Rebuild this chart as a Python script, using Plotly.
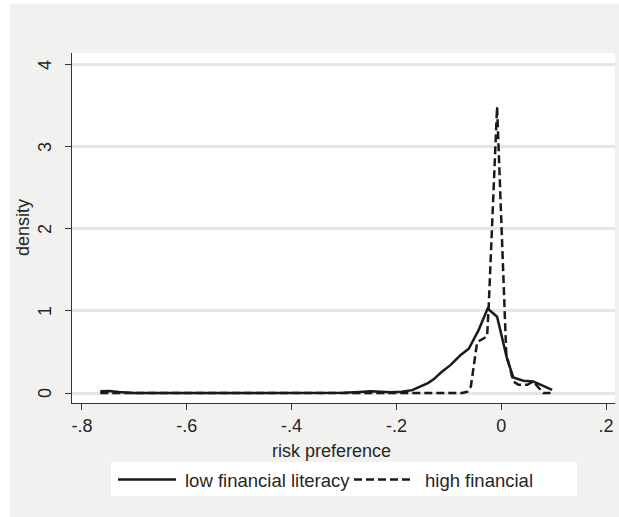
import plotly.graph_objects as go

# ---- data ----
low_x = [-0.765, -0.748, -0.73, -0.70, -0.60, -0.50, -0.40, -0.30, -0.27, -0.25, -0.23, -0.21,
         -0.19, -0.17, -0.155, -0.14, -0.129, -0.115, -0.097, -0.078, -0.062, -0.043, -0.026,
         -0.008, 0.011, 0.023, 0.042, 0.061, 0.079, 0.097]
low_y = [0.02, 0.025, 0.012, 0.0, 0.0, 0.0, 0.0, 0.003, 0.012, 0.02, 0.015, 0.01,
         0.016, 0.035, 0.077, 0.12, 0.167, 0.25, 0.34, 0.46, 0.54, 0.77, 1.03,
         0.93, 0.42, 0.19, 0.15, 0.14, 0.09, 0.037]

high_x = [-0.765, -0.50, -0.20, -0.075, -0.065, -0.058, -0.046, -0.027, -0.024, -0.008,
          0.0095, 0.023, 0.033, 0.05, 0.061, 0.08, 0.094]
high_y = [0.0, 0.0, 0.0, 0.0, 0.015, 0.08, 0.62, 0.69, 1.05, 3.49,
          0.48, 0.14, 0.10, 0.10, 0.14, 0.0, 0.0]

x_tick_vals = [-0.8, -0.6, -0.4, -0.2, 0.0, 0.2]
x_tick_text = ["-.8", "-.6", "-.4", "-.2", "0", ".2"]
y_tick_vals = [0, 1, 2, 3, 4]
y_tick_text = ["0", "1", "2", "3", "4"]

series_names = ["low financial literacy", "high financial"]

# ---- layout geometry (pixels) ----
W, H = 619, 517
L, R, T, B = 72, 615, 53, 403
PW, PH = R - L, B - T

def px(xp):
    return (xp - L) / PW

def py(yp):
    return (B - yp) / PH

FONT = "Liberation Sans, Arial, Helvetica, sans-serif"
TXT = "#262626"
BG = "#f1f2f0"
LINE = "#1a1a1a"
AX = "#333333"

fig = go.Figure()
fig.add_trace(go.Scatter(x=low_x, y=low_y, mode="lines", name=series_names[0],
                         line=dict(color=LINE, width=2.5), showlegend=False))
fig.add_trace(go.Scatter(x=high_x, y=high_y, mode="lines", name=series_names[1],
                         line=dict(color=LINE, width=2.5, dash="8px,4px"), showlegend=False))

shapes = [
    # white strips outside the grey outer panel
    dict(type="rect", xref="paper", yref="paper", x0=px(0), x1=px(10), y0=py(H), y1=py(0),
         fillcolor="white", line_width=0, layer="below"),
    dict(type="rect", xref="paper", yref="paper", x0=px(0), x1=px(W), y0=py(4), y1=py(0),
         fillcolor="white", line_width=0, layer="below"),
    # legend box
    dict(type="rect", xref="paper", yref="paper", x0=px(111), x1=px(577), y0=py(496), y1=py(462),
         fillcolor="white", line_width=0, layer="above"),
    dict(type="line", xref="paper", yref="paper", x0=px(118), x1=px(176), y0=py(479.5), y1=py(479.5),
         line=dict(color=LINE, width=2.5)),
    dict(type="line", xref="paper", yref="paper", x0=px(354), x1=px(413), y0=py(479.5), y1=py(479.5),
         line=dict(color=LINE, width=2.5, dash="8px,4px")),
]

annotations = [
    dict(text=series_names[0], xref="paper", yref="paper", x=px(183), y=py(480),
         xanchor="left", yanchor="middle", showarrow=False, font=dict(size=18.5, color=TXT, family=FONT)),
    dict(text=series_names[1], xref="paper", yref="paper", x=px(423), y=py(480),
         xanchor="left", yanchor="middle", showarrow=False, font=dict(size=18.5, color=TXT, family=FONT)),
    dict(text="risk preference", xref="paper", yref="paper", x=px(331), y=py(451),
         xanchor="center", yanchor="middle", showarrow=False, font=dict(size=18, color=TXT, family=FONT)),
    dict(text="density", xref="paper", yref="paper", x=px(23), y=py(228), textangle=-90,
         xanchor="center", yanchor="middle", showarrow=False, font=dict(size=18, color=TXT, family=FONT)),
]
# y tick labels, rotated (Stata style), positioned on the y axis scale
for v, t in zip(y_tick_vals, y_tick_text):
    annotations.append(dict(text=t, xref="paper", yref="y", x=px(45), y=v, textangle=-90,
                            xanchor="center", yanchor="middle", showarrow=False,
                            font=dict(size=18, color=TXT, family=FONT)))

fig.update_layout(
    width=W, height=H,
    margin=dict(l=L, r=W - R, t=T, b=H - B, pad=0),
    paper_bgcolor=BG, plot_bgcolor="white",
    font=dict(family=FONT, size=18, color=TXT),
    shapes=shapes, annotations=annotations,
    showlegend=False,
    xaxis=dict(range=[-0.819, 0.217], tickvals=x_tick_vals, ticktext=x_tick_text,
               showgrid=False, zeroline=False, showline=True, linecolor=AX, linewidth=1,
               ticks="outside", ticklen=6, tickcolor=AX, tickwidth=1,
               tickfont=dict(size=18, color=TXT), fixedrange=True),
    yaxis=dict(range=[-0.122, 4.146], tickvals=y_tick_vals, ticktext=y_tick_text,
               showticklabels=False,
               showgrid=True, gridcolor="#e4e7e6", gridwidth=2.5, zeroline=False,
               showline=True, linecolor=AX, linewidth=1,
               ticks="outside", ticklen=6, tickcolor=AX, tickwidth=1,
               fixedrange=True),
)

fig.write_html("out.html", config={"displayModeBar": False},
               post_script="document.body.style.margin='0px';")
